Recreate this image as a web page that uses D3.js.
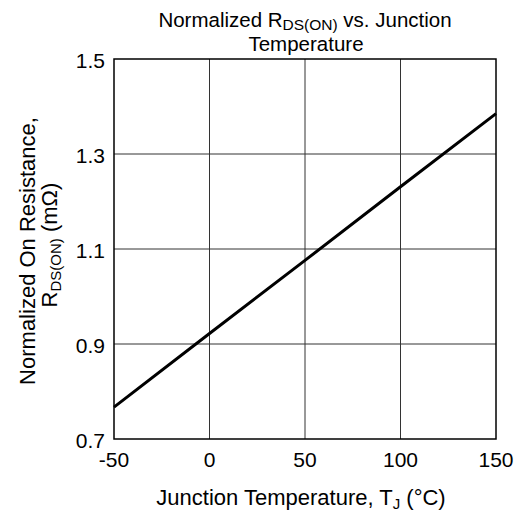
<!DOCTYPE html>
<html lang="en">
<head>
<meta charset="utf-8"/>
<title>Normalized RDS(ON) vs. Junction Temperature</title>
<script src="https://d3js.org/d3.v7.min.js"></script>
<style>
  body { margin: 0; background: #fff; }
  text { font-family: "Liberation Sans", Arial, sans-serif; fill: #000; }
</style>
</head>
<body>
<script>
// data
var temps = [-50, 0, 50, 100, 150];
var rdsOn = [0.767, 0.922, 1.076, 1.231, 1.385];
var xTicks = [-50, 0, 50, 100, 150];
var yTicks = [0.7, 0.9, 1.1, 1.3, 1.5];

var w = 522, h = 516;
var pl = 114, pr = 496, pt = 59, pb = 439;

var x = d3.scaleLinear().domain([-50, 150]).range([pl, pr]);
var y = d3.scaleLinear().domain([0.7, 1.5]).range([pb, pt]);

var svg = d3.select("body").append("svg")
    .attr("width", w)
    .attr("height", h);

// grid
svg.append("g").selectAll("line")
    .data(xTicks.slice(1, -1))
    .enter().append("line")
    .attr("x1", d => x(d)).attr("x2", d => x(d))
    .attr("y1", pt).attr("y2", pb)
    .attr("stroke", "#333").attr("stroke-width", 1);

svg.append("g").selectAll("line")
    .data(yTicks.slice(1, -1))
    .enter().append("line")
    .attr("x1", pl).attr("x2", pr)
    .attr("y1", d => y(d)).attr("y2", d => y(d))
    .attr("stroke", "#333").attr("stroke-width", 1);

// frame
svg.append("rect")
    .attr("x", pl).attr("y", pt)
    .attr("width", pr - pl).attr("height", pb - pt)
    .attr("fill", "none").attr("stroke", "#000").attr("stroke-width", 1.5);

// the line
var line = d3.line().x(d => x(d[0])).y(d => y(d[1]));
svg.append("path")
    .datum(d3.zip(temps, rdsOn))
    .attr("d", line)
    .attr("fill", "none")
    .attr("stroke", "#000")
    .attr("stroke-width", 3);

// tick labels
svg.append("g").selectAll("text")
    .data(yTicks)
    .enter().append("text")
    .attr("x", pl - 9)
    .attr("y", d => y(d) + 9)
    .attr("text-anchor", "end")
    .attr("font-size", 21)
    .text(d => d.toFixed(1));

svg.append("g").selectAll("text")
    .data(xTicks)
    .enter().append("text")
    .attr("x", d => x(d))
    .attr("y", pb + 28)
    .attr("text-anchor", "middle")
    .attr("font-size", 21)
    .text(d => d);

// title
var t1 = svg.append("text")
    .attr("x", 305).attr("y", 27)
    .attr("text-anchor", "middle")
    .attr("font-size", 20.5);
t1.append("tspan").text("Normalized R");
t1.append("tspan").attr("font-size", 15.5).attr("dy", 3).text("DS(ON)");
t1.append("tspan").attr("dy", -3).text(" vs. Junction");
svg.append("text")
    .attr("x", 306).attr("y", 51)
    .attr("text-anchor", "middle")
    .attr("font-size", 20.5)
    .text("Temperature");

// x axis title
var xt = svg.append("text")
    .attr("x", 301).attr("y", 505)
    .attr("text-anchor", "middle")
    .attr("font-size", 22);
xt.append("tspan").text("Junction Temperature, T");
xt.append("tspan").attr("font-size", 15).attr("dy", 4).text("J");
xt.append("tspan").attr("dy", -4).text(" (°C)");

// y axis title
var yg = svg.append("g").attr("transform", "translate(0,251) rotate(-90)");
yg.append("text")
    .attr("x", 0).attr("y", 35)
    .attr("text-anchor", "middle")
    .attr("font-size", 22)
    .text("Normalized On Resistance,");
var yt = yg.append("text")
    .attr("x", 6).attr("y", 57)
    .attr("text-anchor", "middle")
    .attr("font-size", 22);
yt.append("tspan").text("R");
yt.append("tspan").attr("font-size", 15).attr("dy", 4).text("DS(ON)");
yt.append("tspan").attr("dy", -4).text(" (mΩ)");
</script>
</body>
</html>
